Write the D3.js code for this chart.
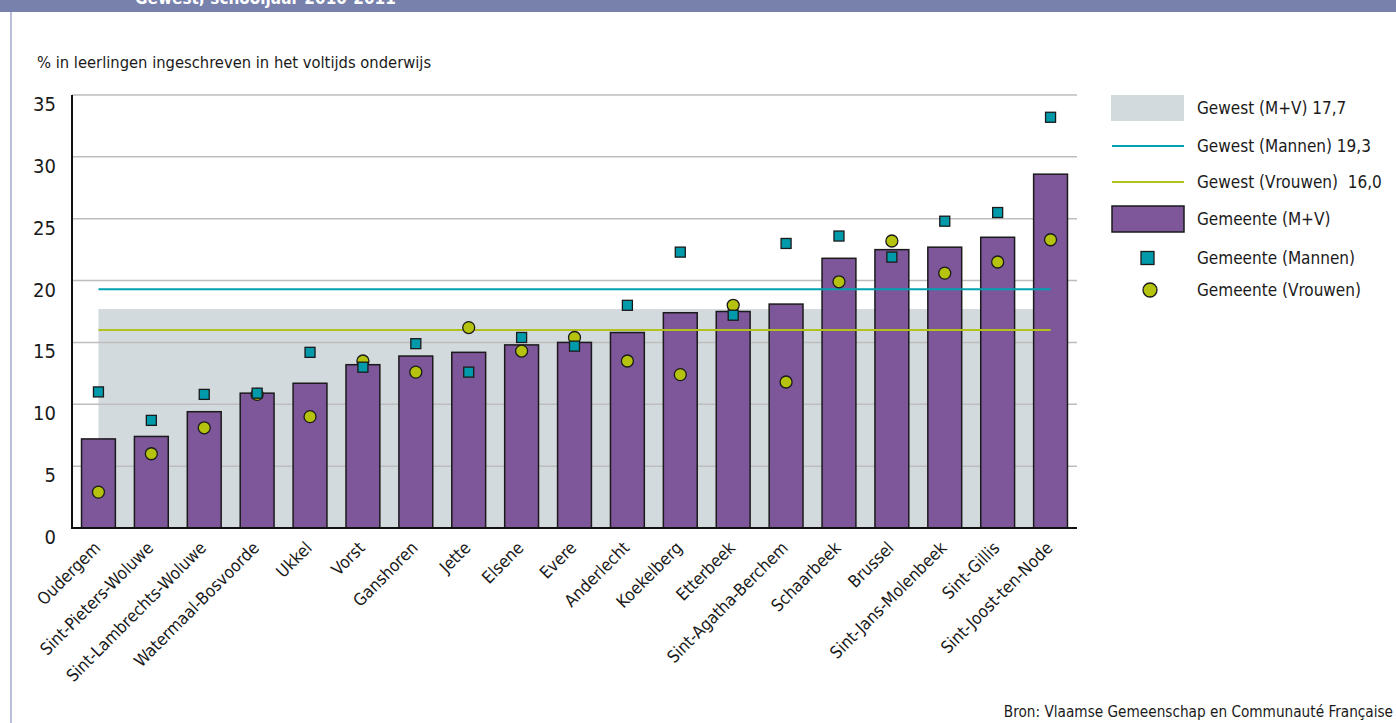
<!DOCTYPE html>
<html>
<head>
<meta charset="utf-8">
<script src="https://cdn.jsdelivr.net/npm/d3@7"></script>
<style>
  html, body { margin: 0; padding: 0; background: #fff; }
  svg { display: block; }
  text { font-family: "DejaVu Sans Condensed", "Noto Sans", sans-serif; fill: #1a1a1a; }
</style>
</head>
<body>
<div id="chart"></div>
<script>
// gemeenten, gesorteerd op totaal
const gemeenten = [
  'Oudergem', 'Sint-Pieters-Woluwe', 'Sint-Lambrechts-Woluwe', 'Watermaal-Bosvoorde',
  'Ukkel', 'Vorst', 'Ganshoren', 'Jette', 'Elsene', 'Evere', 'Anderlecht', 'Koekelberg',
  'Etterbeek', 'Sint-Agatha-Berchem', 'Schaarbeek', 'Brussel', 'Sint-Jans-Molenbeek',
  'Sint-Gillis', 'Sint-Joost-ten-Node'
];
const totaal  = [7.2, 7.4, 9.4, 10.9, 11.7, 13.2, 13.9, 14.2, 14.8, 15.0, 15.8, 17.4, 17.5, 18.1, 21.8, 22.5, 22.7, 23.5, 28.6];
const mannen  = [11.0, 8.7, 10.8, 10.9, 14.2, 13.0, 14.9, 12.6, 15.4, 14.7, 18.0, 22.3, 17.2, 23.0, 23.6, 21.9, 24.8, 25.5, 33.2];
const vrouwen = [2.9, 6.0, 8.1, 10.8, 9.0, 13.5, 12.6, 16.2, 14.3, 15.4, 13.5, 12.4, 18.0, 11.8, 19.9, 23.2, 20.6, 21.5, 23.3];

// gewestelijke gemiddelden
const gewestTotaal = 17.7;
const gewestMannen = 19.3;
const gewestVrouwen = 16.0;

const yTicks = [0, 5, 10, 15, 20, 25, 30, 35];
const legendLabels = [
  'Gewest (M+V) 17,7',
  'Gewest (Mannen) 19,3',
  'Gewest (Vrouwen)  16,0',
  'Gemeente (M+V)',
  'Gemeente (Mannen)',
  'Gemeente (Vrouwen)'
];

const W = 1396, H = 723;
const colors = {
  header: '#7781ab',
  border: '#a3a9d2',
  bar: '#7d5799',
  gewest: '#d3dade',
  cyan: '#00a2b2',
  square: '#009aaa',
  green: '#b2c21a',
  circle: '#b5c30f',
  grid: '#bdbdbd'
};

const svg = d3.select('#chart').append('svg')
  .attr('width', W)
  .attr('height', H);

// kader bovenaan en links
svg.append('rect')
  .attr('x', 0).attr('y', 0)
  .attr('width', W).attr('height', 12)
  .attr('fill', colors.header);
svg.append('text')
  .attr('x', 135).attr('y', 4)
  .style('fill', '#fff')
  .attr('font-weight', 'bold')
  .attr('font-size', '17px')
  .text('Gewest; schooljaar 2010-2011');
svg.append('line')
  .attr('x1', 11).attr('x2', 11)
  .attr('y1', 12).attr('y2', H)
  .attr('stroke', colors.border)
  .attr('stroke-width', 1.5);

svg.append('text')
  .attr('x', 37).attr('y', 68)
  .attr('font-size', '16.4px')
  .text('% in leerlingen ingeschreven in het voltijds onderwijs');

const x = d3.scaleBand()
  .domain(gemeenten)
  .range([72, 1077])
  .paddingInner(0.36)
  .paddingOuter(0.18);

const y = d3.scaleLinear()
  .domain([0, 35])
  .range([528, 95]);

const cx = d => x(d) + x.bandwidth() / 2;
const first = gemeenten[0], last = gemeenten[gemeenten.length - 1];

// gewestelijk totaal als grijze zone
svg.append('rect')
  .attr('x', cx(first))
  .attr('y', y(gewestTotaal))
  .attr('width', cx(last) - cx(first))
  .attr('height', y(0) - y(gewestTotaal))
  .attr('fill', colors.gewest);

// rasterlijnen
svg.append('g')
  .selectAll('line')
  .data(yTicks.filter(t => t > 0))
  .join('line')
  .attr('x1', 72).attr('x2', 1077)
  .attr('y1', d => y(d)).attr('y2', d => y(d))
  .attr('stroke', colors.grid)
  .attr('stroke-width', 1.5);

// y-as labels
svg.append('g')
  .selectAll('text')
  .data(yTicks)
  .join('text')
  .attr('x', 56)
  .attr('y', d => y(d) + 16)
  .attr('text-anchor', 'end')
  .attr('font-size', '20px')
  .text(d => d);

// balken
svg.append('g')
  .selectAll('rect')
  .data(gemeenten)
  .join('rect')
  .attr('x', d => x(d))
  .attr('y', (d, i) => y(totaal[i]))
  .attr('width', x.bandwidth())
  .attr('height', (d, i) => y(0) - y(totaal[i]))
  .attr('fill', colors.bar)
  .attr('stroke', '#1a1a1a')
  .attr('stroke-width', 1.5);

// gewestelijke lijnen
[[gewestMannen, colors.cyan], [gewestVrouwen, colors.green]].forEach(([v, c]) => {
  svg.append('line')
    .attr('x1', cx(first)).attr('x2', cx(last))
    .attr('y1', y(v)).attr('y2', y(v))
    .attr('stroke', c)
    .attr('stroke-width', 2);
});

// assen
svg.append('line')
  .attr('x1', 72).attr('x2', 72)
  .attr('y1', y(35)).attr('y2', y(0))
  .attr('stroke', '#111').attr('stroke-width', 2);
svg.append('line')
  .attr('x1', 71).attr('x2', 1077)
  .attr('y1', y(0)).attr('y2', y(0))
  .attr('stroke', '#111').attr('stroke-width', 2);

// vrouwen (cirkels)
svg.append('g')
  .selectAll('circle')
  .data(gemeenten)
  .join('circle')
  .attr('cx', d => cx(d))
  .attr('cy', (d, i) => y(vrouwen[i]))
  .attr('r', 6)
  .attr('fill', colors.circle)
  .attr('stroke', '#1a1a1a')
  .attr('stroke-width', 1.3);

// mannen (vierkantjes)
const sq = 10;
svg.append('g')
  .selectAll('rect')
  .data(gemeenten)
  .join('rect')
  .attr('x', d => cx(d) - sq / 2)
  .attr('y', (d, i) => y(mannen[i]) - sq / 2)
  .attr('width', sq).attr('height', sq)
  .attr('fill', colors.square)
  .attr('stroke', '#1a1a1a')
  .attr('stroke-width', 1.3);

// x-as labels
svg.append('g')
  .selectAll('text')
  .data(gemeenten)
  .join('text')
  .attr('transform', d => `translate(${cx(d) + 3},549) rotate(-45)`)
  .attr('text-anchor', 'end')
  .attr('font-size', '17px')
  .text(d => d);

// legende
const lx = 1111, lw = 73;
const rows = [108, 146, 182, 219, 258, 290];
const lg = svg.append('g');
lg.append('rect').attr('x', lx).attr('y', rows[0] - 13).attr('width', lw).attr('height', 26)
  .attr('fill', colors.gewest);
lg.append('line').attr('x1', lx + 1).attr('x2', lx + lw).attr('y1', rows[1]).attr('y2', rows[1])
  .attr('stroke', colors.cyan).attr('stroke-width', 2);
lg.append('line').attr('x1', lx + 1).attr('x2', lx + lw).attr('y1', rows[2]).attr('y2', rows[2])
  .attr('stroke', colors.green).attr('stroke-width', 2);
lg.append('rect').attr('x', lx + 1).attr('y', rows[3] - 13).attr('width', lw - 1).attr('height', 26)
  .attr('fill', colors.bar).attr('stroke', '#1a1a1a').attr('stroke-width', 1.5);
lg.append('rect').attr('x', 1141).attr('y', rows[4] - 6.5).attr('width', 13).attr('height', 13)
  .attr('fill', colors.square).attr('stroke', '#1a1a1a').attr('stroke-width', 1.3);
lg.append('circle').attr('cx', 1150).attr('cy', rows[5]).attr('r', 7)
  .attr('fill', colors.circle).attr('stroke', '#1a1a1a').attr('stroke-width', 1.3);
lg.selectAll('text.lab')
  .data(legendLabels)
  .join('text')
  .attr('class', 'lab')
  .attr('x', 1197)
  .attr('y', (d, i) => rows[i] + 6)
  .attr('font-size', '17px')
  .style('white-space', 'pre')
  .text(d => d);

// bron
svg.append('text')
  .attr('x', 1393).attr('y', 717)
  .attr('text-anchor', 'end')
  .attr('font-size', '15.2px')
  .text('Bron: Vlaamse Gemeenschap en Communauté Française');
</script>
</body>
</html>
